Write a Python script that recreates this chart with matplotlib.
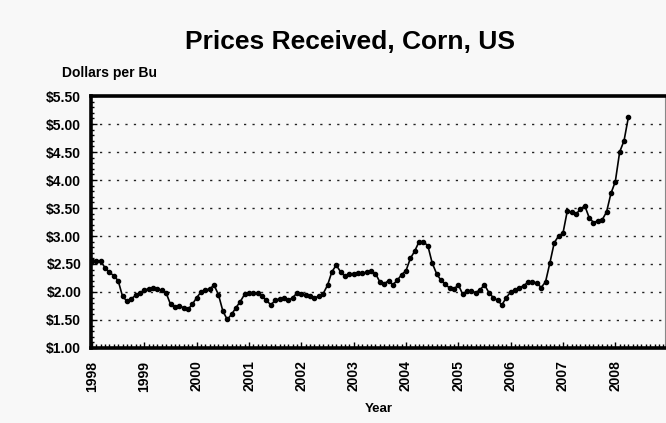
import matplotlib
matplotlib.use("Agg")
import matplotlib.pyplot as plt
from matplotlib.ticker import FixedLocator, MultipleLocator
import numpy as np

# %% Data: monthly prices received, Jan 1998 - Apr 2008 (dollars per bushel)

START_YEAR = 1998
PRICES = [
    2.56, 2.56, 2.55, 2.43, 2.35, 2.29, 2.20, 1.92, 1.84, 1.88, 1.94, 1.99,  # 1998
    2.03, 2.06, 2.07, 2.05, 2.03, 1.98, 1.78, 1.74, 1.75, 1.72, 1.69, 1.78,  # 1999
    1.90, 2.00, 2.03, 2.06, 2.12, 1.95, 1.66, 1.51, 1.60, 1.72, 1.83, 1.96,  # 2000
    1.99, 1.98, 1.98, 1.92, 1.85, 1.77, 1.85, 1.88, 1.89, 1.85, 1.90, 1.98,  # 2001
    1.97, 1.95, 1.93, 1.90, 1.92, 1.97, 2.12, 2.36, 2.48, 2.36, 2.28, 2.32,  # 2002
    2.33, 2.34, 2.34, 2.35, 2.37, 2.33, 2.18, 2.15, 2.20, 2.13, 2.21, 2.31,  # 2003
    2.38, 2.60, 2.73, 2.90, 2.89, 2.83, 2.52, 2.33, 2.21, 2.14, 2.07, 2.05,  # 2004
    2.13, 1.96, 2.02, 2.01, 1.99, 2.04, 2.13, 1.99, 1.90, 1.85, 1.77, 1.90,  # 2005
    2.00, 2.03, 2.08, 2.11, 2.18, 2.18, 2.16, 2.08, 2.18, 2.52, 2.88, 3.00,  # 2006
    3.05, 3.45, 3.42, 3.39, 3.48, 3.54, 3.33, 3.24, 3.27, 3.29, 3.43, 3.76,  # 2007
    3.97, 4.50, 4.70, 5.12,  # 2008
]

YEAR_TICKS = list(range(1998, 2009))
PRICE_TICKS = [1.00, 1.50, 2.00, 2.50, 3.00, 3.50, 4.00, 4.50, 5.00, 5.50]

TITLE = "Prices Received, Corn, US"
YLABEL = "Dollars per Bu"
XLABEL = "Year"

# %% Plot

FONT = ["Liberation Sans", "DejaVu Sans"]
plt.rcParams["font.family"] = FONT
plt.rcParams["font.weight"] = "bold"

BG = "#f8f8f8"

fig = plt.figure(figsize=(6.66, 4.23), dpi=100, facecolor=BG)
ax = fig.add_axes([91 / 666, 1 - 348 / 423, 574 / 666, 252 / 423])
ax.set_facecolor(BG)

x = START_YEAR + np.arange(len(PRICES)) / 12
ax.plot(
    x,
    PRICES,
    color="black",
    linewidth=1.2,
    marker="o",
    markersize=3.0,
    zorder=3,
)

for p in PRICE_TICKS[1:-1]:
    ax.axhline(p, color="#222222", linewidth=1.0, linestyle=(0, (1.6, 4.5)), zorder=1)

ax.set_xlim(1997.98, 2008.95)
ax.set_ylim(1.0, 5.5)

ax.xaxis.set_major_locator(FixedLocator(YEAR_TICKS))
ax.set_xticklabels([str(y) for y in YEAR_TICKS], rotation=90, fontsize=10, fontweight="bold")
ax.xaxis.set_minor_locator(MultipleLocator(1 / 12))

ax.yaxis.set_major_locator(FixedLocator(PRICE_TICKS))
ax.set_yticklabels([f"${p:.2f}" for p in PRICE_TICKS], fontsize=10, fontweight="bold")
ax.yaxis.set_minor_locator(MultipleLocator(0.1))

ax.tick_params(axis="x", which="major", direction="in", length=4, width=1, pad=9)
ax.tick_params(axis="x", which="minor", direction="in", length=3, width=1)
ax.tick_params(axis="y", which="major", direction="in", length=4, width=1, pad=7)
ax.tick_params(axis="y", which="minor", direction="in", length=2, width=1)

for side in ["top", "left", "bottom"]:
    ax.spines[side].set_linewidth(2.6)
ax.spines["right"].set_linewidth(0.8)
ax.spines["right"].set_color("#888888")

fig.text(350 / 666, 1 - 49 / 423, TITLE, ha="center", va="baseline",
         fontsize=19, fontweight="bold")
fig.text(110 / 666, 1 - 73 / 423, YLABEL, ha="center", va="center",
         fontsize=10, fontweight="bold")
fig.text(379 / 666, 1 - 409 / 423, XLABEL, ha="center", va="center",
         fontsize=9.5, fontweight="bold")

fig.savefig("out.png", dpi=100, facecolor=BG)
